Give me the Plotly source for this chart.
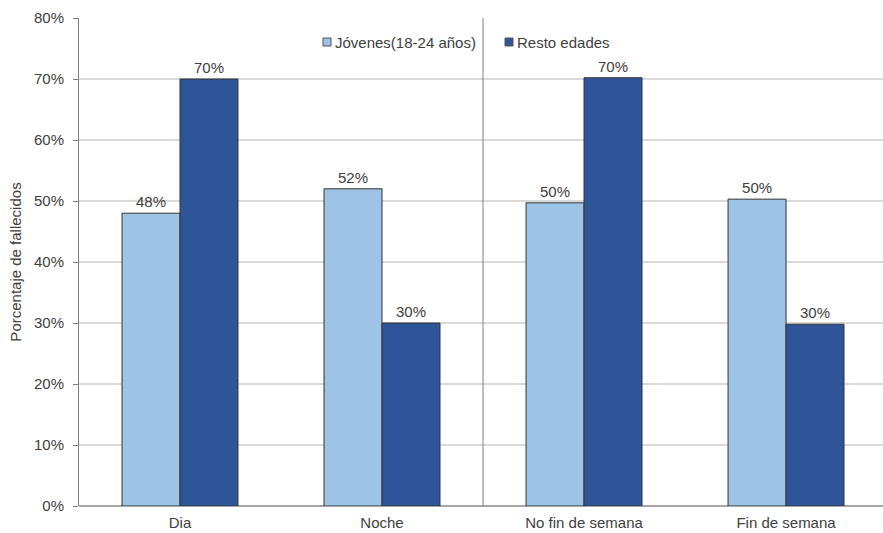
import plotly.graph_objects as go

categories = ["Dia", "Noche", "No fin de semana", "Fin de semana"]
jovenes = [48.0, 52.0, 49.7, 50.3]
resto = [70.0, 30.0, 70.2, 29.8]
jovenes_labels = ["48%", "52%", "50%", "50%"]
resto_labels = ["70%", "30%", "70%", "30%"]
series_names = ["Jóvenes(18-24 años)", "Resto edades"]
series_colors = ["#9dc3e6", "#2d5597"]
y_ticks = [0, 10, 20, 30, 40, 50, 60, 70, 80]
y_tick_text = ["0%", "10%", "20%", "30%", "40%", "50%", "60%", "70%", "80%"]

font_family = "Liberation Sans, Arial, sans-serif"
text_color = "#404040"
fsize = 15

W, H = 883, 533
ML, MR, MT, MB = 79, 0, 18, 27
PW, PH = W - ML - MR, H - MT - MB


def px_x(p):
    return (p - ML) / PW


def px_y(p):
    return 1 - (p - MT) / PH


fig = go.Figure()
for name, vals, labels, color in [
    (series_names[0], jovenes, jovenes_labels, series_colors[0]),
    (series_names[1], resto, resto_labels, series_colors[1]),
]:
    fig.add_trace(go.Bar(
        x=categories, y=vals, name=name, showlegend=False,
        marker=dict(color=color, line=dict(color="#333333", width=1)),
        text=labels, textposition="outside", cliponaxis=False,
        textfont=dict(size=fsize, color=text_color, family=font_family),
    ))

# divider between the two groups of categories
fig.add_shape(type="line", xref="x", yref="paper", x0=1.5, x1=1.5, y0=0, y1=1,
              line=dict(color="#808080", width=1))

# manual legend (small squares + text)
legend_items = [(323, 333), (505, 515)]
for (sq_x, tx_x), name, color in zip(legend_items, series_names, series_colors):
    fig.add_shape(type="rect", xref="paper", yref="paper",
                  x0=px_x(sq_x), x1=px_x(sq_x + 8), y0=px_y(46), y1=px_y(38),
                  fillcolor=color, line=dict(color="#555555", width=1))
    fig.add_annotation(xref="paper", yref="paper", x=px_x(tx_x), y=px_y(42),
                       xanchor="left", yanchor="middle", showarrow=False,
                       text=name, font=dict(size=fsize, color=text_color, family=font_family))

fig.update_layout(
    width=W, height=H,
    margin=dict(l=ML, r=MR, t=MT, b=MB),
    paper_bgcolor="white", plot_bgcolor="white",
    barmode="group", bargap=0.426, bargroupgap=0,
    font=dict(family=font_family, size=fsize, color=text_color),
    showlegend=False,
    xaxis=dict(range=[-0.5, 3.48], showgrid=False, showline=False,
               tickfont=dict(size=fsize, color=text_color), ticks="",
               ticklabelstandoff=6),
    yaxis=dict(range=[0, 80], tickvals=y_ticks, ticktext=y_tick_text,
               showgrid=True, gridcolor="#d9d9d9", gridwidth=1.5,
               showline=True, linecolor="#808080", linewidth=1,
               ticks="outside", ticklen=5, tickcolor="#808080",
               ticklabelstandoff=6,
               zeroline=True, zerolinecolor="#a6a6a6", zerolinewidth=2,
               tickfont=dict(size=fsize, color=text_color),
               title=dict(text="Porcentaje de fallecidos",
                          font=dict(size=fsize, color=text_color), standoff=8)),
)

fig.write_html("out.html")
